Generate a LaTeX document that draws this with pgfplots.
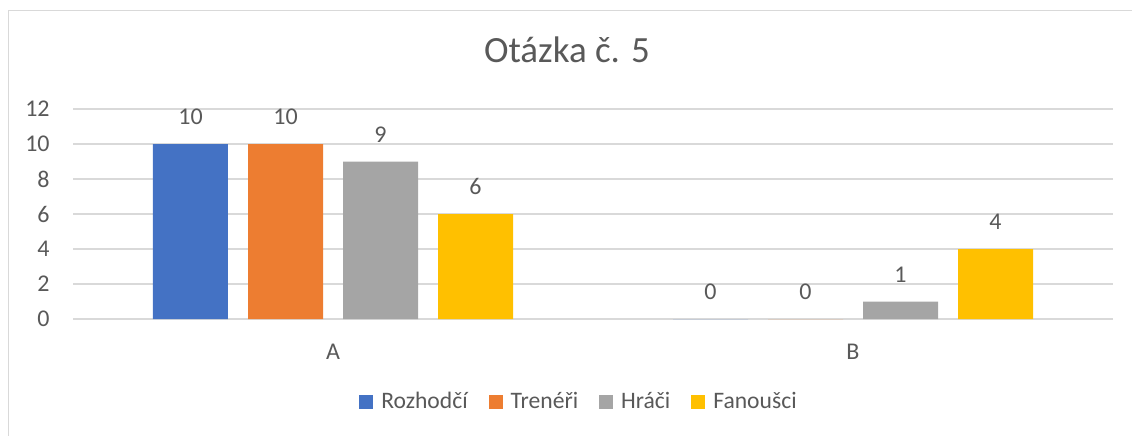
\documentclass[border=0pt]{standalone}
\usepackage{fontspec}
\setmainfont{Carlito}
\usepackage{pgfplots}
\pgfplotsset{compat=1.18}

\definecolor{txt}{HTML}{595959}
\definecolor{gridc}{HTML}{D9D9D9}
\definecolor{c1}{HTML}{4472C4}
\definecolor{c2}{HTML}{ED7D31}
\definecolor{c3}{HTML}{A5A5A5}
\definecolor{c4}{HTML}{FFC000}

\begin{document}
\begin{tikzpicture}
% 1 px of the reference = 0.5pt, origin at the axis' lower left corner
\useasboundingbox (-36.5pt,-58pt) rectangle (529.5pt,159.5pt);
\draw[gridc, line width=0.8pt] (-32.25pt,-60pt) -- (-32.25pt,154.25pt) -- (531pt,154.25pt);

\node[anchor=base, text=txt, font=\fontsize{18.5}{22}\selectfont] at (247pt,128.5pt) {Otázka č. 5};

\begin{axis}[
  at={(0,0)}, anchor=south west,
  scale only axis,
  width=520pt, height=105pt,
  ymin=0, ymax=12,
  xmin=-0.5, xmax=1.5,
  ytick={0,2,...,12},
  xtick={0,1},
  xticklabels={A,B},
  axis line style={draw=none},
  major tick length=0pt,
  ymajorgrids,
  grid style={gridc, line width=0.8pt},
  ybar=10pt,
  bar width=37.5pt,
  every axis plot/.append style={draw=none},
  /pgf/number format/assume math mode=true,
  tick label style={text=txt, font=\fontsize{12}{14}\selectfont},
  yticklabel style={anchor=east, inner sep=0pt, xshift=-11.5pt},
  xticklabel style={anchor=north, inner sep=0pt, yshift=-12.5pt},
  nodes near coords,
  every node near coord/.append style={text=txt, font=\fontsize{12}{14}\selectfont, anchor=south, inner sep=0pt, yshift=9.5pt},
  legend style={draw=none, at={(253.5pt,-41.5pt)}, anchor=center, legend columns=-1,
    font=\fontsize{11.8}{14}\selectfont, text=txt,
    /tikz/every odd column/.append style={column sep=2pt},
    /tikz/every even column/.append style={column sep=8.5pt}},
  legend image code/.code={\fill[#1] (0pt,-3.5pt) rectangle (7pt,3.5pt);},
]
\addplot[fill=c1] coordinates {(0,10) (1,0)};
\addplot[fill=c2] coordinates {(0,10) (1,0)};
\addplot[fill=c3] coordinates {(0,9) (1,1)};
\addplot[fill=c4] coordinates {(0,6) (1,4)};
\legend{Rozhodčí,Trenéři,Hráči,Fanoušci}
\end{axis}
\end{tikzpicture}
\end{document}
